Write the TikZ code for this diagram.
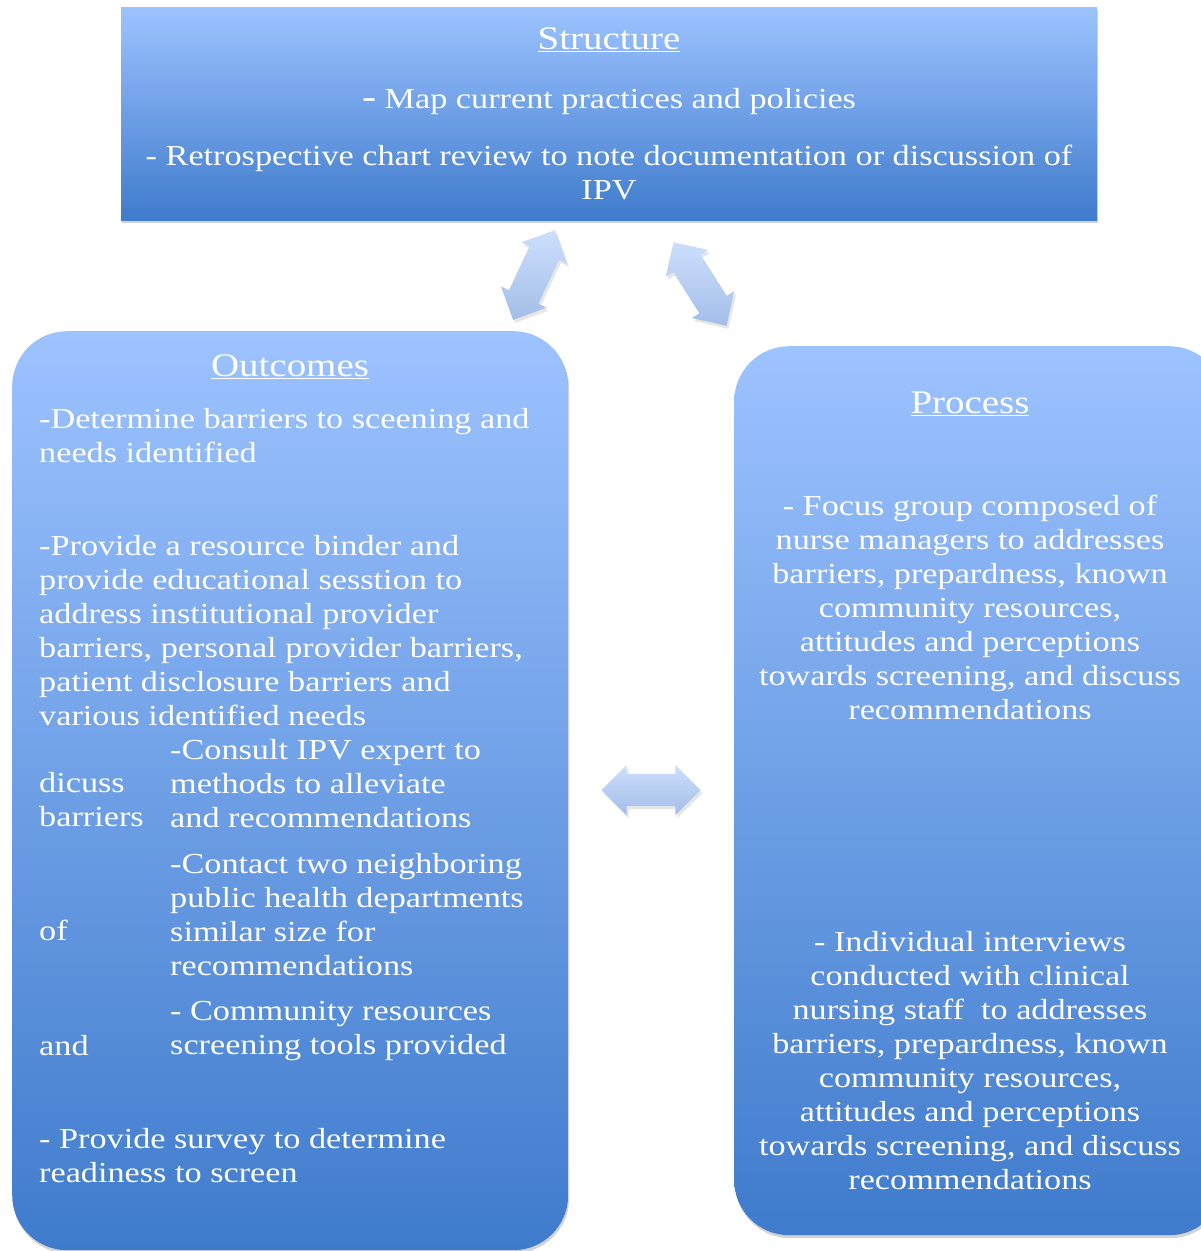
\documentclass[tikz,border=0pt]{standalone}
\usepackage{fontspec}
\setmainfont[FakeStretch=1.18]{Liberation Serif}
\usetikzlibrary{positioning, shapes.arrows, shadows, calc}

\definecolor{boxtop}{HTML}{9DC3FF}
\definecolor{boxbot}{HTML}{3F7BCC}
\definecolor{arrtop}{HTML}{CCDFFC}
\definecolor{arrbot}{HTML}{A4BEE9}

\begin{document}
\begin{tikzpicture}[
  x=1pt, y=1pt,
  font=\fontsize{29}{34}\selectfont,
  box/.style={draw=none, top color=boxtop, bottom color=boxbot, inner sep=0pt,
    drop shadow={opacity=0.35, shadow xshift=1pt, shadow yshift=-3pt}},
  dblarr/.style={double arrow, draw=none, top color=arrtop, bottom color=arrbot,
    inner xsep=0pt, inner ysep=16pt, minimum height=99,
    double arrow head extend=9, double arrow tip angle=90,
    drop shadow={opacity=0.2, shadow xshift=2pt, shadow yshift=-3pt}},
  ttl/.style={text=white, inner sep=0pt, anchor=north, font=\fontsize{33}{34}\selectfont},
  lft/.style={text=white, inner sep=0pt, anchor=north west, align=left},
  ctr/.style={text=white, inner sep=0pt, anchor=north, align=center}
]
\useasboundingbox (0,0) rectangle (1201,-1251);

% ================= BOXES =================
\node[box, minimum width=976, minimum height=213, anchor=north west] (struc) at (121,-7) {};
\node[box, rounded corners=55, minimum width=556, minimum height=919, anchor=north west] (outc) at (12,-331) {};
\node[box, rounded corners=55, minimum width=490, minimum height=889, anchor=north west] (proc) at (734,-346) {};

% ================= ARROWS =================
\node[dblarr, rotate=65] (aL) at (534,-275) {};
\node[dblarr, rotate=-57.6] (aR) at (700,-284) {};
\node[dblarr] (aM) at (651,-790) {};

% ================= STRUCTURE =================
\node[ttl] (sT) at (609,-27) {\underline{Structure}};
\node[ctr] (s1) at (609,-88) {{\fontsize{36}{34}\selectfont -} Map current practices and policies};
\node[ctr] (s2) at (609,-145) {- Retrospective chart review to note documentation or discussion of\\IPV};

% ================= OUTCOMES =================
\node[ttl] (oT) at (290,-354) {\underline{Outcomes}};
\node[lft] (o1) at (39,-408) {-Determine barriers to sceening and\\needs identified};
\node[lft] (o2) at (39,-535) {-Provide a resource binder and\\provide educational sesstion to\\address institutional provider\\barriers, personal provider barriers,\\patient disclosure barriers and\\various identified needs};
\node[lft] (o3r) at (170,-739) {-Consult IPV expert to\\methods to alleviate\\and recommendations};
\node[lft] (o3l) at (39,-772) {dicuss\\barriers};
\node[lft] (o4r) at (170,-853) {-Contact two neighboring\\public health departments\\similar size for\\recommendations};
\node[lft] (o4l) at (39,-920) {of};
\node[lft] (o5r) at (170,-1001) {- Community resources\\screening tools provided};
\node[lft] (o5l) at (39,-1035) {and};
\node[lft] (o6) at (39,-1128) {- Provide survey to determine\\readiness to screen};

% ================= PROCESS =================
\node[ttl] (pT) at (970,-392) {\underline{Process}};
\node[ctr] (p1) at (970,-495) {- Focus group composed of\\nurse managers to addresses\\barriers, prepardness, known\\community resources,\\attitudes and perceptions\\towards screening, and discuss\\recommendations};
\node[ctr] (p2) at (970,-931) {- Individual interviews\\conducted with clinical\\nursing staff\ \ to addresses\\barriers, prepardness, known\\community resources,\\attitudes and perceptions\\towards screening, and discuss\\recommendations};
\end{tikzpicture}
\end{document}
